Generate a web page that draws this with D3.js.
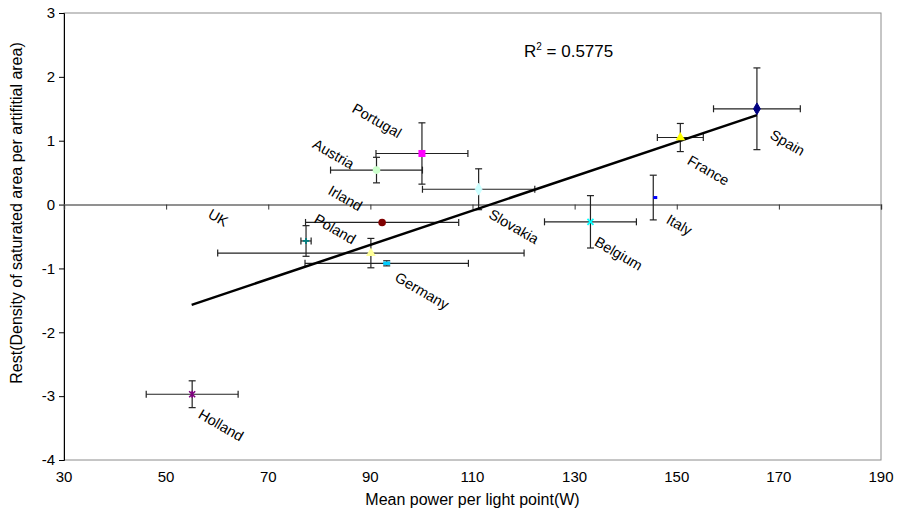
<!DOCTYPE html>
<html>
<head>
<meta charset="utf-8">
<script src="https://cdn.jsdelivr.net/npm/d3@7"></script>
<style>
  body { margin: 0; background: #fff; }
  svg { font-family: "Liberation Sans", Arial, sans-serif; }
</style>
</head>
<body>
<svg id="chart" width="899" height="529"></svg>
<script>
"use strict";

// data
var countries = ["Spain", "Portugal", "France", "Belgium", "Holland", "Irland", "UK", "Italy", "Germany", "Slovakia", "Austria", "Poland"];
var power = [165.7, 100.1, 150.7, 133.1, 55.1, 92.3, 77.4, 145.4, 93.2, 111.2, 91.2, 90.1];
var rest = [1.50, 0.80, 1.05, -0.27, -2.97, -0.28, -0.57, 0.11, -0.92, 0.24, 0.54, -0.76];
var powerErr = [8.5, 9, 4.5, 9, 9, 15, 1, 0, 16, 11, 9, 30];
var restErr = [0.64, 0.48, 0.22, 0.41, 0.21, 0, 0.24, 0.35, 0.04, 0.32, 0.2, 0.23];
var markers = ["diamond", "square", "triangle", "x", "star", "circle", "plus", "dash", "bar", "diamond", "circle", "triangle"];
var colors = ["#000080", "#ff00ff", "#ffff00", "#00ffff", "#800080", "#800000", "#008080", "#0000ff", "#00ccff", "#ccffff", "#ccffcc", "#ffff99"];

var trendX = [55, 165.7];
var trendY = [-1.57, 1.40];
var rSquared = "0.5775";

var xTicks = [30, 50, 70, 90, 110, 130, 150, 170, 190];
var yTicks = [-4, -3, -2, -1, 0, 1, 2, 3];

// label placement relative to the point, px
var labelOffsets = {
  Spain: [12, 29], France: [6, 26], Italy: [12, 25], Belgium: [3, 23],
  Slovakia: [9, 28], Portugal: [-71, -42], Austria: [-65, -23], Irland: [-55, -29],
  UK: [-99, -24], Poland: [-58, -31], Germany: [7, 17], Holland: [5, 23]
};

var svg = d3.select("#chart");
var plotLeft = 64, plotRight = 881, plotTop = 13, plotBottom = 460;

var x = d3.scaleLinear().domain([30, 190]).range([plotLeft, plotRight]);
var y = d3.scaleLinear().domain([-4, 3]).range([plotBottom, plotTop]);

// plot border
svg.append("rect")
  .attr("x", plotLeft).attr("y", plotTop)
  .attr("width", plotRight - plotLeft).attr("height", plotBottom - plotTop)
  .attr("fill", "none").attr("stroke", "#8c8c8c").attr("stroke-width", 1);

// y axis on the left
var yAxis = svg.append("g")
  .attr("transform", "translate(" + plotLeft + ",0)")
  .call(d3.axisLeft(y).tickValues(yTicks).tickSize(5).tickPadding(4).tickFormat(function(d) { return String(d); }));
yAxis.select(".domain").attr("stroke", "#000");
yAxis.selectAll("text").style("font-size", "15px").attr("fill", "#000");

// x axis crossing at zero, labels at the bottom
var xAxis = svg.append("g")
  .attr("transform", "translate(0," + y(0) + ")")
  .call(d3.axisBottom(x).tickValues(xTicks).tickSize(5).tickFormat(""));
xAxis.select(".domain").attr("stroke", "#6e6e6e").attr("stroke-width", 1.5);
xAxis.selectAll(".tick line").attr("stroke", "#333");

svg.append("g").selectAll("text")
  .data(xTicks)
  .enter()
  .append("text")
  .attr("x", function(d) { return x(d); })
  .attr("y", plotBottom + 22)
  .attr("text-anchor", "middle")
  .style("font-size", "15px")
  .text(function(d) { return d; });

// axis titles
svg.append("text")
  .attr("x", (plotLeft + plotRight) / 2)
  .attr("y", 505)
  .attr("text-anchor", "middle")
  .style("font-size", "16px")
  .text("Mean power per light point(W)");

svg.append("text")
  .attr("transform", "translate(22,213) rotate(-90)")
  .attr("text-anchor", "middle")
  .style("font-size", "16px")
  .text("Rest(Density of saturated area per artifitial area)");

// error bars
var idx = d3.range(countries.length);
var cap = 3.5;
var bars = svg.append("g").attr("stroke", "#222").attr("stroke-width", 1.2);

idx.forEach(function(i) {
  var cx = x(power[i]), cy = y(rest[i]);
  if (powerErr[i] > 0) {
    var x0 = x(power[i] - powerErr[i]), x1 = x(power[i] + powerErr[i]);
    bars.append("line").attr("x1", x0).attr("x2", x1).attr("y1", cy).attr("y2", cy);
    bars.append("line").attr("x1", x0).attr("x2", x0).attr("y1", cy - cap).attr("y2", cy + cap);
    bars.append("line").attr("x1", x1).attr("x2", x1).attr("y1", cy - cap).attr("y2", cy + cap);
  }
  if (restErr[i] > 0) {
    var y0 = y(rest[i] - restErr[i]), y1 = y(rest[i] + restErr[i]);
    bars.append("line").attr("x1", cx).attr("x2", cx).attr("y1", y0).attr("y2", y1);
    bars.append("line").attr("x1", cx - cap).attr("x2", cx + cap).attr("y1", y0).attr("y2", y0);
    bars.append("line").attr("x1", cx - cap).attr("x2", cx + cap).attr("y1", y1).attr("y2", y1);
  }
});

// trend line
svg.append("path")
  .datum(d3.zip(trendX, trendY))
  .attr("fill", "none")
  .attr("stroke", "#000")
  .attr("stroke-width", 2.5)
  .attr("d", d3.line().x(function(d) { return x(d[0]); }).y(function(d) { return y(d[1]); }));

// markers
function drawMarker(g, type, color) {
  if (type == "diamond") {
    g.append("path").attr("d", d3.symbol(d3.symbolDiamond, 40)()).attr("fill", color).attr("stroke", color);
  } else if (type == "square") {
    g.append("rect").attr("x", -3.5).attr("y", -3.5).attr("width", 7).attr("height", 7).attr("fill", color);
  } else if (type == "triangle") {
    g.append("path").attr("d", d3.symbol(d3.symbolTriangle, 40)()).attr("fill", color);
  } else if (type == "circle") {
    g.append("circle").attr("r", 3.8).attr("fill", color);
  } else if (type == "x") {
    g.append("path").attr("d", "M-3,-3L3,3M-3,3L3,-3").attr("stroke", color).attr("stroke-width", 1.8);
  } else if (type == "star") {
    g.append("path").attr("d", "M-3,-3L3,3M-3,3L3,-3M0,-3.5L0,3.5").attr("stroke", color).attr("stroke-width", 1.6);
  } else if (type == "plus") {
    g.append("path").attr("d", "M-3,0L3,0M0,-3L0,3").attr("stroke", color).attr("stroke-width", 1.8);
  } else if (type == "dash") {
    g.append("rect").attr("x", 0).attr("y", -1.5).attr("width", 4).attr("height", 3).attr("fill", color);
  } else if (type == "bar") {
    g.append("rect").attr("x", -3.5).attr("y", -1.8).attr("width", 7).attr("height", 3.6).attr("fill", color);
  }
}

idx.forEach(function(i) {
  var g = svg.append("g").attr("transform", "translate(" + x(power[i]) + "," + y(rest[i]) + ")");
  drawMarker(g, markers[i], colors[i]);
});

// country labels, tilted
svg.append("g").selectAll("text")
  .data(idx)
  .enter()
  .append("text")
  .attr("transform", function(i) {
    var o = labelOffsets[countries[i]];
    return "translate(" + (x(power[i]) + o[0]) + "," + (y(rest[i]) + o[1]) + ") rotate(30)";
  })
  .style("font-size", "14.5px")
  .text(function(i) { return countries[i]; });

// R squared
var r2 = svg.append("text")
  .attr("x", 524)
  .attr("y", 57)
  .style("font-size", "17px");
r2.append("tspan").text("R");
r2.append("tspan").attr("dy", -7).style("font-size", "10px").text("2");
r2.append("tspan").attr("dy", 7).text(" = " + rSquared);
</script>
</body>
</html>
